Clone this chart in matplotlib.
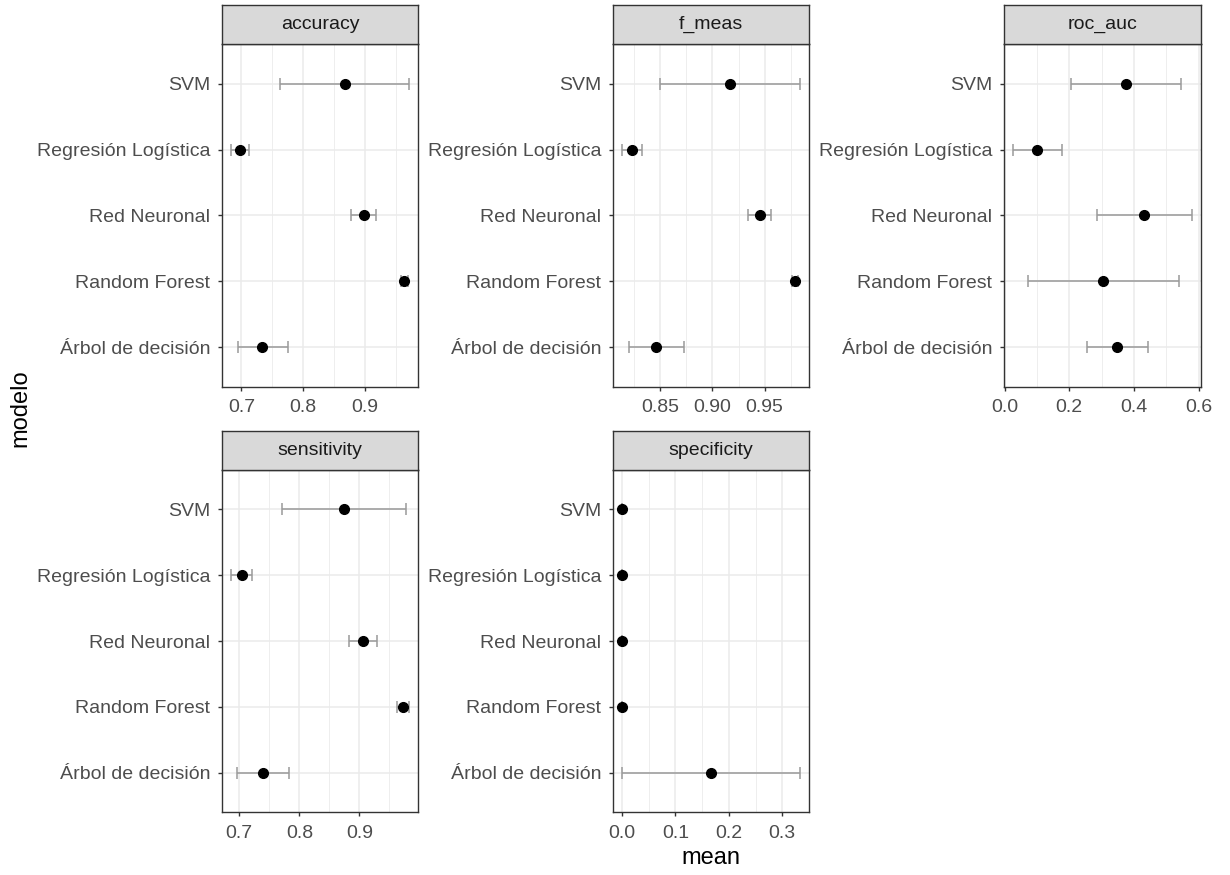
import matplotlib.pyplot as plt
import numpy as np
from matplotlib.ticker import MultipleLocator, AutoMinorLocator, FormatStrFormatter

plt.rcParams['font.family'] = ['Liberation Sans', 'DejaVu Sans']

# models, bottom to top
modelos = ["Árbol de decisión", "Random Forest", "Red Neuronal",
           "Regresión Logística", "SVM"]

metricas = ["accuracy", "f_meas", "roc_auc", "sensitivity", "specificity"]

# mean, lower and upper limit per metric (same order as modelos)
acc_mean = [0.734, 0.963, 0.898, 0.698, 0.867]
acc_low = [0.695, 0.958, 0.877, 0.683, 0.762]
acc_high = [0.776, 0.970, 0.917, 0.712, 0.971]

f_mean = [0.8455, 0.9794, 0.9452, 0.8228, 0.917]
f_low = [0.8196, 0.9765, 0.934, 0.8132, 0.8496]
f_high = [0.8723, 0.982, 0.9557, 0.8327, 0.984]

roc_mean = [0.348, 0.305, 0.432, 0.101, 0.375]
roc_low = [0.255, 0.072, 0.286, 0.026, 0.205]
roc_high = [0.443, 0.539, 0.579, 0.177, 0.545]

sens_mean = [0.7403, 0.972, 0.9056, 0.7045, 0.8742]
sens_low = [0.697, 0.9628, 0.882, 0.6862, 0.7705]
sens_high = [0.7826, 0.9826, 0.929, 0.721, 0.9767]

spec_mean = [0.1667, 0.0, 0.0, 0.0, 0.0]
spec_low = [0.0, 0.0, 0.0, 0.0, 0.0]
spec_high = [0.3333, 0.0, 0.0, 0.0, 0.0]

datos = {
    "accuracy": (acc_mean, acc_low, acc_high),
    "f_meas": (f_mean, f_low, f_high),
    "roc_auc": (roc_mean, roc_low, roc_high),
    "sensitivity": (sens_mean, sens_low, sens_high),
    "specificity": (spec_mean, spec_low, spec_high),
}

paso = {"accuracy": 0.1, "f_meas": 0.05, "roc_auc": 0.2,
        "sensitivity": 0.1, "specificity": 0.1}
formato = {"accuracy": "%.1f", "f_meas": "%.2f", "roc_auc": "%.1f",
           "sensitivity": "%.1f", "specificity": "%.1f"}

W, H = 1230, 875
fig = plt.figure(figsize=(W / 100, H / 100), dpi=100)

# panel boxes in pixels: (left, right), (strip top, panel top, panel bottom)
cols = [(222, 418), (613, 809), (1004, 1201)]
rows = [(5, 44, 387), (431, 470, 812)]

y = np.arange(1, len(modelos) + 1)

for i, m in enumerate(metricas):
    c0, c1 = cols[i % 3]
    s0, p0, p1 = rows[i // 3]
    ax = fig.add_axes([c0 / W, 1 - p1 / H, (c1 - c0) / W, (p1 - p0) / H])
    media, lo, hi = (np.array(v) for v in datos[m])

    ax.errorbar(media, y, xerr=[media - lo, hi - media], fmt='none',
                ecolor='#9a9a9a', elinewidth=1.1, capsize=4.3,
                capthick=1.1, zorder=2)
    ax.plot(media, y, 'o', color='black', markersize=7, zorder=3)

    # ggplot style expansion
    xmin, xmax = lo.min(), hi.max()
    r = xmax - xmin
    ax.set_xlim(xmin - 0.05 * r, xmax + 0.05 * r)
    ax.set_ylim(0.4, len(modelos) + 0.6)

    ax.xaxis.set_major_locator(MultipleLocator(paso[m]))
    ax.xaxis.set_minor_locator(AutoMinorLocator(2))
    ax.xaxis.set_major_formatter(FormatStrFormatter(formato[m]))
    ax.set_yticks(y)
    ax.set_yticklabels(modelos)

    ax.grid(which='major', color='#ebebeb', linewidth=1.1, zorder=0)
    ax.grid(which='minor', axis='x', color='#ebebeb', linewidth=0.6, zorder=0)
    ax.set_axisbelow(True)
    for sp in ax.spines.values():
        sp.set_color('#333333')
        sp.set_linewidth(1.0)
    ax.tick_params(which='major', length=3, width=1.0, color='#333333',
                   labelcolor='#4d4d4d', labelsize=14)
    ax.tick_params(axis='y', pad=5.5)
    ax.tick_params(axis='x', pad=6)
    ax.tick_params(which='minor', length=0)

    # facet strip
    sax = fig.add_axes([c0 / W, 1 - p0 / H, (c1 - c0) / W, (p0 - s0) / H])
    sax.set_facecolor('#d9d9d9')
    sax.set_xticks([])
    sax.set_yticks([])
    for sp in sax.spines.values():
        sp.set_color('#333333')
        sp.set_linewidth(1.0)
    sax.text(0.5, 0.5, m, ha='center', va='center', fontsize=14,
             color='#1a1a1a', transform=sax.transAxes)

fig.text(711 / W, 1 - 858 / H, "mean", ha='center', va='center', fontsize=17)
fig.text(20 / W, 1 - 408 / H, "modelo", ha='center', va='center',
         rotation=90, fontsize=17)

fig.savefig("out.png", dpi=100)
